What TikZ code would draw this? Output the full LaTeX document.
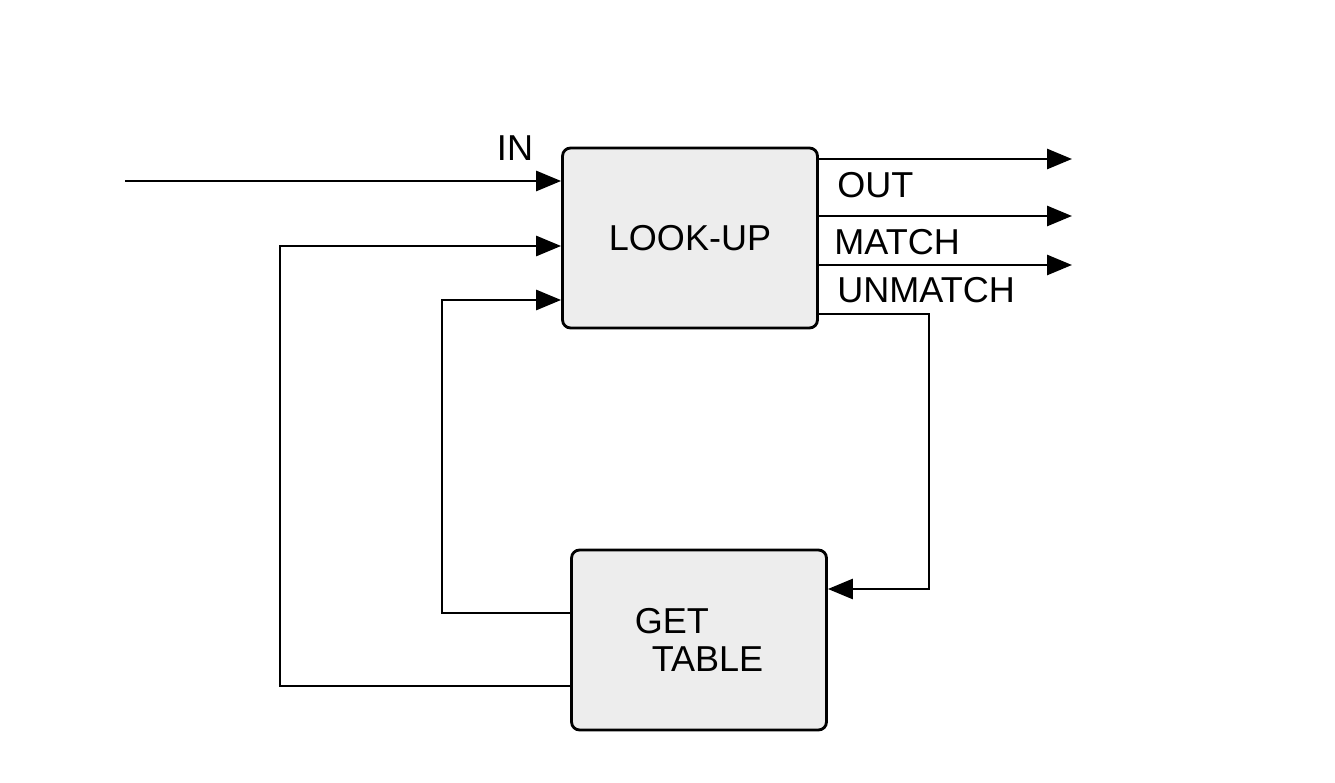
\documentclass[tikz,border=0pt]{standalone}
\usepackage{fontspec}
\setmainfont{Liberation Sans}
\usetikzlibrary{arrows.meta}

\begin{document}
\begin{tikzpicture}[x=0.02cm,y=-0.02cm,>={Triangle[length=0.5cm,width=0.4cm]},
  line width=1.6pt,
  block/.style={draw,rounded corners=0.16cm,fill=black!7,minimum width=5.1cm,
    minimum height=3.6cm,inner sep=0pt,align=left,
    font=\fontsize{20.5}{21.6}\selectfont},
  lbl/.style={inner sep=0pt,font=\fontsize{20.5}{21.6}\selectfont}]
\useasboundingbox (0,0) rectangle (1335,783);

% define the blocks
  \node[block] (lookup)   at (690,238) {LOOK-UP};
  \node[block] (gettable) at (699,640) {GET\\\hspace*{0.34cm}TABLE};

% define the free ends
  \coordinate (in)      at (125,181);
  \coordinate (out)     at (1072,159);
  \coordinate (match)   at (1072,216);
  \coordinate (unmatch) at (1072,265);
  \coordinate (fbone)   at (280,686);
  \coordinate (fbtwo)   at (442,613);
  \coordinate (turn)    at (929,589);

% define the links
  \draw[->] (in) -- (in -| lookup.west);
  \draw[->] (out -| lookup.east) -- (out);
  \draw[->] (match -| lookup.east) -- (match);
  \draw[->] (unmatch -| lookup.east) -- (unmatch);
  \draw[->] (fbone -| gettable.west) -- (fbone) |- (lookup.west |- 0,246);
  \draw[->] (fbtwo -| gettable.west) -- (fbtwo) |- (lookup.west |- 0,300);
  \draw[->] (lookup.east |- 0,314) -| (turn) -- (gettable.east |- turn);

% labels
  \node[lbl] (inlbl) at (515,148) {IN};
  \node[lbl,anchor=west] (outlbl)     at (836,185) {OUT};
  \node[lbl,anchor=west] (matchlbl)   at (833,242) {MATCH};
  \node[lbl,anchor=west] (unmatchlbl) at (836,290) {UNMATCH};
\end{tikzpicture}
\end{document}
